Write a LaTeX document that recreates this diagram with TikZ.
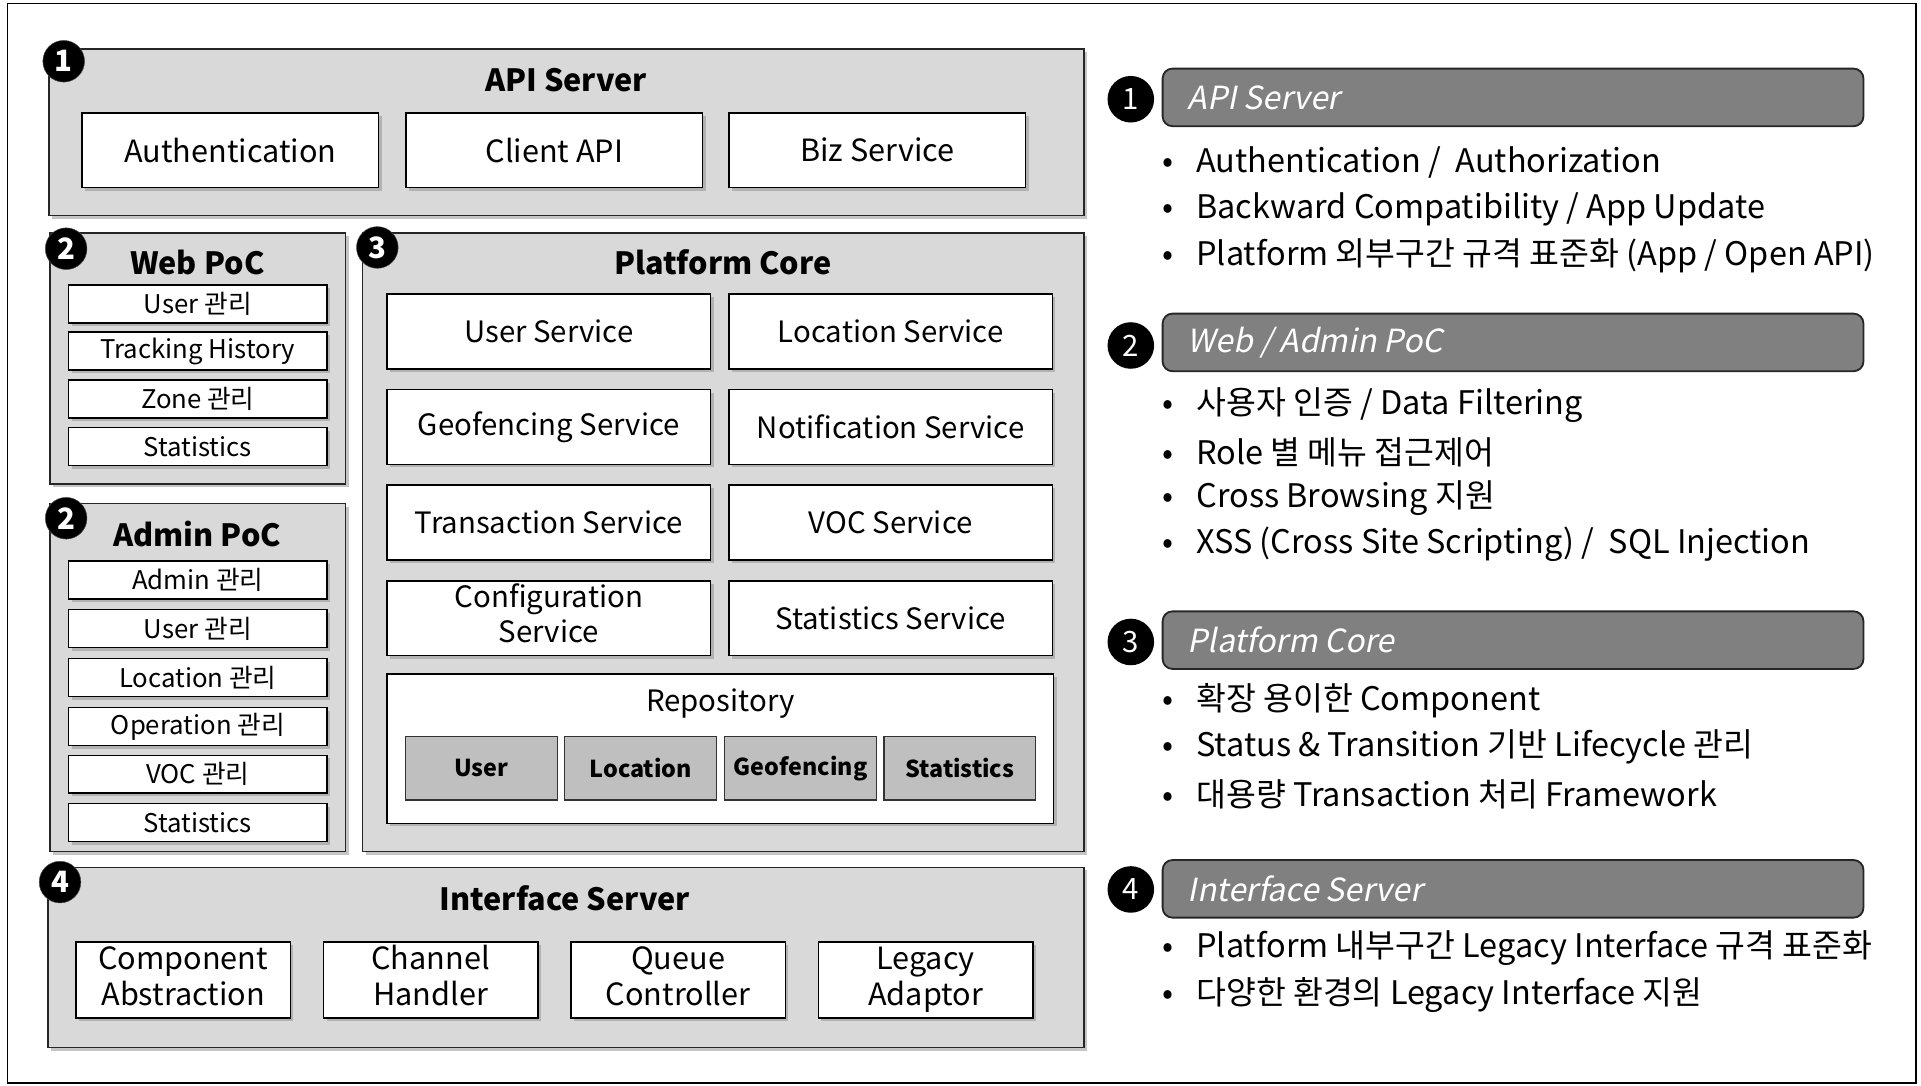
\documentclass[tikz,border=0pt]{standalone}
\usepackage{fontspec}
\setmainfont{Noto Sans CJK KR}
\newfontfamily\slfont{Noto Sans CJK KR}[FakeSlant=0.2]
\usepackage{tikz}
\usetikzlibrary{shadows}

\begin{document}
\begin{tikzpicture}
[x=1pt,y=-1pt,
shade/.style={drop shadow={shadow xshift=2.5pt,shadow yshift=-2.5pt,fill=black!45}},
panel/.style={draw=black!85,line width=1.3pt,fill=black!15,shade},
box/.style={draw,line width=1.3pt,fill=white,shade,align=center,font=\fontsize{24}{28}\selectfont},
ibox/.style={box,inner ysep=0pt,minimum width=175,minimum height=62,font=\fontsize{25}{30}\selectfont},
item/.style={draw,line width=1.3pt,fill=white,shade,minimum width=211,minimum height=31,font=\fontsize{21}{22}\selectfont},
repo/.style={draw=black!80,line width=1pt,fill=black!25,minimum width=124,minimum height=52,font=\bfseries\fontsize{19}{22}\selectfont},
title/.style={font=\bfseries\fontsize{25}{28}\selectfont},
badge/.style={circle,fill=black,draw=black!70,text=white,inner sep=0pt,minimum size=34,font=\bfseries\fontsize{24}{24}\selectfont},
rbadge/.style={circle,fill=black,text=white,inner sep=0pt,minimum size=38,font=\fontsize{24}{24}\selectfont},
head/.style={draw=black!85,line width=1.5pt,fill=black!50,rounded corners=8pt,minimum width=572,minimum height=47},
htext/.style={anchor=west,text=white,font=\slfont\fontsize{26}{28}\selectfont},
pt/.style={anchor=west,font=\fontsize{26.5}{30}\selectfont}];
\useasboundingbox (0,0) rectangle (1568,886);
\draw[line width=1.3pt] (6,3) rectangle (1564,884);

\node[panel,minimum width=845,minimum height=136] (api) at (462.5,108) {};
\node[title] (apit) at (462,65) {API Server};
\node[box,minimum width=242,minimum height=61,font=\fontsize{25}{28}\selectfont] (auth) at (188,122.5) {Authentication};
\node[box,minimum width=242,minimum height=61,font=\fontsize{25}{28}\selectfont] (capi) at (452.5,122.5) {Client API};
\node[box,minimum width=242,minimum height=61,font=\fontsize{25}{28}\selectfont] (biz) at (716,122.5) {Biz Service};
\node[badge] (b1) at (52,50) {1};

\node[panel,minimum width=241,minimum height=205] (web) at (161.5,292.5) {};
\node[title] (webt) at (161,214) {Web PoC};
\node[item] (w1) at (161.5,248) {User 관리};
\node[item] (w2) at (161.5,286.5) {Tracking History};
\node[item] (w3) at (161.5,325.5) {Zone 관리};
\node[item] (w4) at (161.5,364.5) {Statistics};
\node[badge] (b2) at (54,203) {2};

\node[panel,minimum width=241,minimum height=284] (adm) at (161.5,553) {};
\node[title] (admt) at (161,436) {Admin PoC};
\node[item] (a1) at (161.5,473.5) {Admin 관리};
\node[item] (a2) at (161.5,513) {User 관리};
\node[item] (a3) at (161.5,553) {Location 관리};
\node[item] (a4) at (161.5,593) {Operation 관리};
\node[item] (a5) at (161.5,632) {VOC 관리};
\node[item] (a6) at (161.5,671.5) {Statistics};
\node[badge] (b2b) at (54,423) {2};

\node[panel,minimum width=589,minimum height=505] (core) at (590.5,442.5) {};
\node[title] (coret) at (590,214) {Platform Core};
\node[box,minimum width=264,minimum height=61] (s1) at (448,270.5) {User Service};
\node[box,minimum width=264,minimum height=61] (s2) at (727,270.5) {Location Service};
\node[box,minimum width=264,minimum height=61] (s3) at (448,348.5) {Geofencing Service};
\node[box,minimum width=264,minimum height=61] (s4) at (727,348.5) {Notification Service};
\node[box,minimum width=264,minimum height=61] (s5) at (448,426.5) {Transaction Service};
\node[box,minimum width=264,minimum height=61] (s6) at (727,426.5) {VOC Service};
\node[box,minimum width=264,minimum height=61,inner ysep=0pt,font=\fontsize{24}{28}\selectfont] (s7) at (448,504.5) {\strut Configuration\\\strut Service};
\node[box,minimum width=264,minimum height=61] (s8) at (727,504.5) {Statistics Service};
\node[box,minimum width=544,minimum height=122] (rep) at (588,611) {};
\node[font=\fontsize{24}{28}\selectfont] (rept) at (588,574) {Repository};
\node[repo] (r1) at (393,627) {User};
\node[repo] (r2) at (523,627) {Location};
\node[repo] (r3) at (653.5,627) {Geofencing};
\node[repo] (r4) at (783.5,627) {Statistics};
\node[badge] (b3) at (308,202) {3};

\node[panel,minimum width=846,minimum height=147] (ifs) at (462,781.5) {};
\node[title] (ifst) at (461,733) {Interface Server};
\node[ibox] (i1) at (149.5,800) {\strut Component\\\strut Abstraction};
\node[ibox] (i2) at (351.5,800) {\strut Channel\\\strut Handler};
\node[ibox] (i3) at (553.5,800) {\strut Queue\\\strut Controller};
\node[ibox] (i4) at (755.5,800) {\strut Legacy\\\strut Adaptor};
\node[badge] (b4) at (49,720) {4};

\node[head] (h1) at (1235,79.5) {};
\node[htext] (h1t) at (966,79.5) {API Server};
\node[rbadge] (n1) at (923,81) {1};
\node[pt] (p11) at (945,133) {•\hspace{19pt}Authentication /\ \ Authorization};
\node[pt] (p12) at (945,171) {•\hspace{19pt}Backward Compatibility / App Update};
\node[pt] (p13) at (945,209) {•\hspace{19pt}Platform 외부구간 규격 표준화 (App / Open API)};

\node[head] (h2) at (1235,279.5) {};
\node[htext] (h2t) at (966,279.5) {Web / Admin PoC};
\node[rbadge] (n2) at (923,282) {2};
\node[pt] (p21) at (945,331) {•\hspace{19pt}사용자 인증 / Data Filtering};
\node[pt] (p22) at (945,369) {•\hspace{19pt}Role 별 메뉴 접근제어};
\node[pt] (p23) at (945,407) {•\hspace{19pt}Cross Browsing 지원};
\node[pt] (p24) at (945,444) {•\hspace{19pt}XSS (Cross Site Scripting) /\ \ SQL Injection};

\node[head] (h3) at (1235,522.5) {};
\node[htext] (h3t) at (966,522.5) {Platform Core};
\node[rbadge] (n3) at (923,524) {3};
\node[pt] (p31) at (945,572) {•\hspace{19pt}확장 용이한 Component};
\node[pt] (p32) at (945,610) {•\hspace{19pt}Status \& Transition 기반 Lifecycle 관리};
\node[pt] (p33) at (945,648) {•\hspace{19pt}대용량 Transaction 처리 Framework};

\node[head] (h4) at (1235,725.5) {};
\node[htext] (h4t) at (966,725.5) {Interface Server};
\node[rbadge] (n4) at (923,726) {4};
\node[pt] (p41) at (945,774) {•\hspace{19pt}Platform 내부구간 Legacy Interface 규격 표준화};
\node[pt] (p42) at (945,812) {•\hspace{19pt}다양한 환경의 Legacy Interface 지원};
\end{tikzpicture}
\end{document}
